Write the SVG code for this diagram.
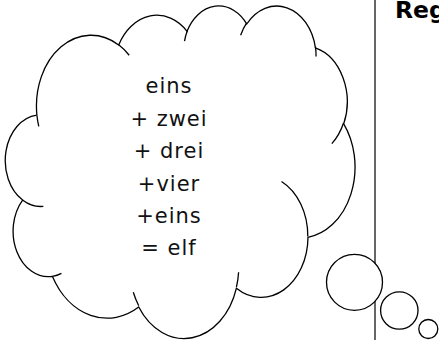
<svg xmlns="http://www.w3.org/2000/svg" width="439" height="340" viewBox="0 0 439 340">
<style>
.ln{fill:none;stroke:#000;stroke-width:1.3;vector-effect:non-scaling-stroke}
.bub{fill:#fff;stroke:#000;stroke-width:1.3}
.t{font-family:"DejaVu Sans","Liberation Sans",sans-serif;font-size:21px;letter-spacing:1px;fill:#111;text-anchor:middle}
.h{font-family:"DejaVu Sans","Liberation Sans",sans-serif;font-size:23.5px;font-weight:bold;fill:#000}
</style>
<rect width="439" height="340" fill="#fff"/>
<g id="divider">
<line x1="375" y1="0" x2="375" y2="340" stroke="#333" stroke-width="1.5"/>
</g>
<g id="cloud" transform="translate(5.4,4.9) scale(0.00809,0.007695)">
<path class="ln" style="fill:#fff" d="M3900,14370 A6753,9190 0 0 1 14005,5202 A5333,7267 0 0 1 22456,3431 A4365,5945 0 0 1 29833,2480 A4857,6595 0 0 1 38318,5573 A5333,7273 0 0 1 41818,15459 A6775,9220 0 0 1 37403,30201 A5785,7867 0 0 1 28554,36811 A6752,9215 0 0 1 16479,39262 A7720,10543 0 0 1 5819,35281 A4360,5918 0 0 1 2129,25358 A4345,5945 0 0 1 3879,14315 Z"/>
<path class="ln" d="M4693,26177 A4345,5945 0 0 1 2159,25379 M6928,34899 A4360,5918 0 0 1 5819,35281 M16478,39090 A6752,9215 0 0 1 15810,37348 M28827,34751 A6752,9215 0 0 1 28560,36662 M34129,22954 A5785,7867 0 0 1 37379,30089 M41798,15354 A5333,7273 0 0 1 40351,18028 M38324,5426 A4857,6595 0 0 1 38401,6691 M29078,3952 A4857,6595 0 0 1 29821,2339 M22141,4720 A4365,5945 0 0 1 22500,3331 M14000,5192 A6753,9190 0 0 1 15301,6542 M4127,15789 A6753,9190 0 0 1 3900,14371"/>
</g>
<g id="bubbles">
<circle class="bub" cx="354.5" cy="282.3" r="28"/>
<circle class="bub" cx="399.3" cy="310.5" r="18.7"/>
<circle class="bub" cx="428.3" cy="329" r="9.5"/>
</g>
<g id="cloud-text">
<text class="t" x="169" y="93.3">eins</text>
<text class="t" x="169" y="125.7">+ zwei</text>
<text class="t" x="169" y="158.1">+ drei</text>
<text class="t" x="169" y="190.5">+vier</text>
<text class="t" x="169" y="222.9">+eins</text>
<text class="t" x="169" y="255.3">= elf</text>
</g>
<g id="heading">
<text class="h" x="395" y="17.5">Reg</text>
</g>
</svg>
